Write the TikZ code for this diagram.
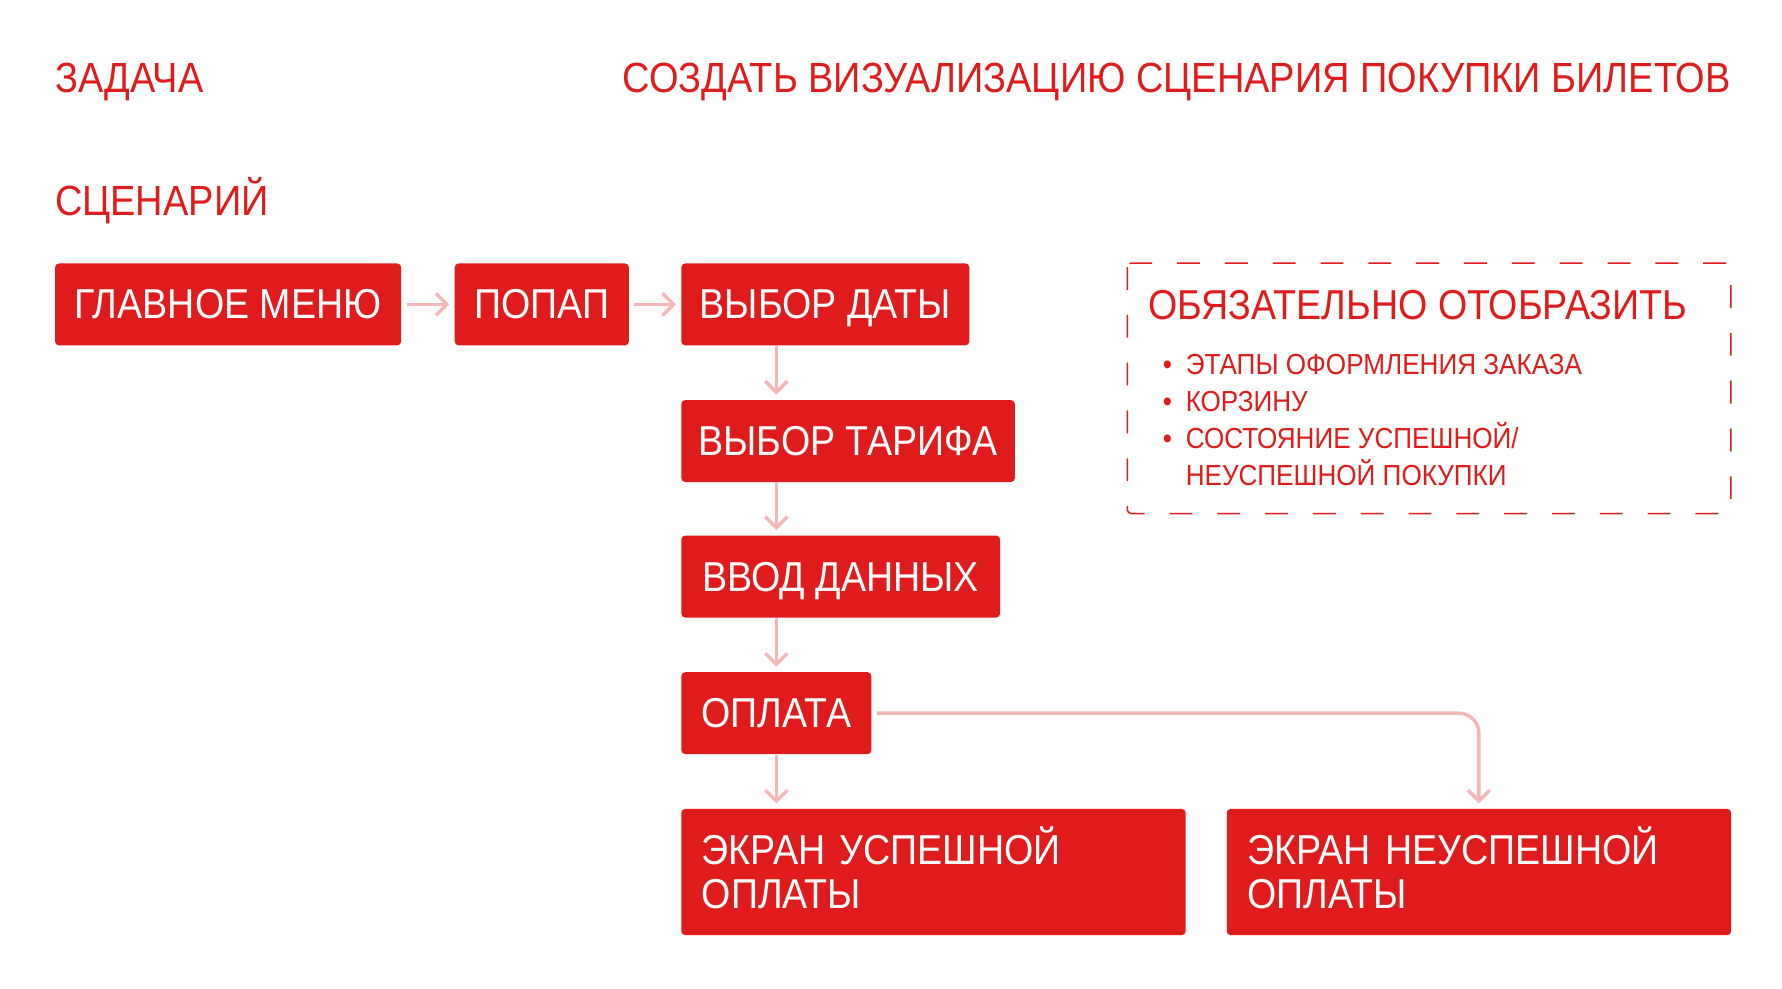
\documentclass[tikz,border=0pt]{standalone}
\usepackage{fontspec}
\setmainfont{Liberation Sans}[FakeStretch=0.9]
\usetikzlibrary{arrows.meta}
\definecolor{ticketred}{RGB}{223,27,27}
\definecolor{linkpink}{RGB}{244,182,182}
\newcommand{\itm}{\makebox[0.4cm][l]{•}}
\begin{document}
\begin{tikzpicture}[x=0.02cm,y=-0.02cm,
	stagebox/.style={fill=ticketred,text=white,rounded corners=2pt,anchor=north west,
		minimum height=1.44cm,inner xsep=0.3cm,inner ysep=0pt,text height=0.51cm,text depth=0pt,
		font=\fontsize{20.9}{22.2}\selectfont},
	heading/.style={text=ticketred,inner sep=0pt,font=\fontsize{21.1}{24}\selectfont},
	link/.style={draw=linkpink,line width=1.7pt,shorten >=2.5pt,
		-{Straight Barb[length=5.5pt,width=11pt,line width=1.7pt]}}]
		\useasboundingbox (0,0) rectangle (1565,868);
		% headings
		\node[heading,anchor=base west] (task) at (48,81) {ЗАДАЧА};
		\node[heading,anchor=base east] (goal) at (1520,81) {СОЗДАТЬ ВИЗУАЛИЗАЦИЮ СЦЕНАРИЯ ПОКУПКИ БИЛЕТОВ};
		\node[heading,anchor=base west] (scenario) at (48,189) {СЦЕНАРИЙ};
		% stages
		\node[stagebox,minimum width=6.08cm] (menu) at (48,231) {ГЛАВНОЕ МЕНЮ};
		\node[stagebox,minimum width=3.06cm] (popup) at (399,231) {ПОПАП};
		\node[stagebox,minimum width=5.06cm] (date) at (598,231) {ВЫБОР ДАТЫ};
		\node[stagebox,minimum width=5.86cm] (tariff) at (598,351) {ВЫБОР ТАРИФА};
		\node[stagebox,minimum width=5.6cm] (data) at (598,470) {ВВОД ДАННЫХ};
		\node[stagebox,minimum width=3.34cm] (pay) at (598,590) {ОПЛАТА};
		\node[stagebox,minimum height=2.22cm,text depth=0.78cm,inner xsep=0.36cm,text width=8.14cm,align=left] (ok) at (598,710) {ЭКРАН УСПЕШНОЙ\\ОПЛАТЫ};
		\node[stagebox,minimum height=2.22cm,text depth=0.78cm,inner xsep=0.36cm,text width=8.14cm,align=left] (fail) at (1077,710) {ЭКРАН НЕУСПЕШНОЙ\\ОПЛАТЫ};
		% links
		\draw[link,shorten <=2.5pt] (menu) -- (popup);
		\draw[link,shorten <=2.5pt] (popup) -- (date);
		\draw[link] (date.south -| pay) -- (tariff.north -| pay);
		\draw[link] (tariff.south -| pay) -- (data.north -| pay);
		\draw[link] (data.south -| pay) -- (pay);
		\draw[link] (pay) -- (ok.north -| pay);
		\draw[link,shorten <=2.5pt,rounded corners=10pt] (pay) -| (fail);
		% must show
		\draw[ticketred,line width=0.75pt,rounded corners=2pt,dash pattern=on 11.4pt off 12.5pt] (990,231) rectangle (1520,451);
		\node[heading,anchor=base west,font=\fontsize{20.9}{22.2}\selectfont] (mustTitle) at (1008,280.5) {ОБЯЗАТЕЛЬНО ОТОБРАЗИТЬ};
		\node[heading,anchor=base west,align=left,font=\fontsize{14.5}{18.5}\selectfont] (mustList) at (1021,426.5)
			{\itm ЭТАПЫ ОФОРМЛЕНИЯ ЗАКАЗА\\\itm КОРЗИНУ\\\itm СОСТОЯНИЕ УСПЕШНОЙ/\\\hspace{0.4cm}НЕУСПЕШНОЙ ПОКУПКИ};
	    \end{tikzpicture}
\end{document}
